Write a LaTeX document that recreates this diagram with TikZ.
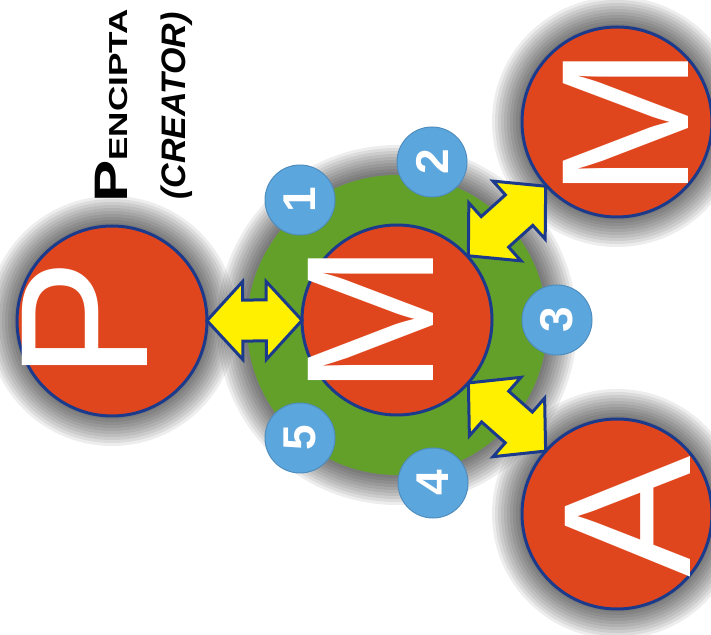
\documentclass[tikz,border=0pt]{standalone}
\usepackage{fontspec}
\setmainfont{Liberation Sans}
\usetikzlibrary{shapes.arrows}
\definecolor{redball}{RGB}{224,70,30}
\definecolor{rimblue}{RGB}{28,58,140}
\definecolor{ringgreen}{RGB}{98,160,42}
\definecolor{arrowyellow}{RGB}{255,240,0}
\definecolor{bubbleblue}{RGB}{92,166,222}

\begin{document}
\begin{tikzpicture}[x=1pt,y=1pt,
    ball/.style={circle,fill=redball,draw=rimblue,line width=3pt,minimum size=190pt,inner sep=0},
    letter/.style={rotate=90,anchor=base,inner sep=0,text=white,font=\fontsize{182}{182}\selectfont},
    bubble/.style={circle,fill=bubbleblue,draw=bubbleblue!85!black,line width=1pt,minimum size=70pt,inner sep=0,text=white,font=\bfseries\fontsize{46}{46}\selectfont,rotate=90},
    fatarrow/.style={double arrow,fill=arrowyellow,draw=rimblue,line width=3pt,inner xsep=0,inner ysep=19pt,double arrow head extend=18.5pt,double arrow tip angle=95,midway,sloped},
    glow/.style={fill=black,fill opacity=0.07}]
        \useasboundingbox (0,0) rectangle (711,634);
        % shadows
        \foreach \cx/\cy/\r in {397/309/150,112/313/95,617/512/95,617/120/95}
            \foreach \k in {1,...,10}
                \fill[glow] (\cx,\cy) circle (\r+3*\k);
        \node[circle,fill=ringgreen,minimum size=300pt,inner sep=0] (ring) at (397,309) {};
        \node[ball] (pc) at (112,313) {};
        \node[ball] (mc) at (397,314) {};
        \node[ball] (mr) at (617,512) {};
        \node[ball] (ac) at (617,120) {};
        \node[letter] (pl) at (147,314) {P};
        \node[letter] (ml) at (433,314) {M};
        \node[letter] (mrl) at (688,511) {M};
        \node[letter] (al) at (690,117) {A};
        % arrows
        \path (pc) -- (mc) node[fatarrow,minimum height=95pt] (a1) {};
        \path (mc) -- (mr) node[fatarrow,minimum height=104pt] (a2) {};
        \path (mc) -- (ac) node[fatarrow,minimum height=103pt] (a3) {};
        \node[bubble] (b1) at (300,434) {1};
        \node[bubble] (b2) at (432,472) {2};
        \node[bubble] (b3) at (557,314) {3};
        \node[bubble] (b4) at (433,151) {4};
        \node[bubble] (b5) at (300,196) {5};
        \node[rotate=90,anchor=base west,inner sep=0,font=\bfseries] (pencipta) at (127,431) {\scalebox{1.35}[1]{\fontsize{47}{47}\selectfont P\fontsize{26}{26}\selectfont ENCIPTA}};
        \node[rotate=90,anchor=base west,inner sep=0,font=\bfseries\itshape\fontsize{34}{34}\selectfont] (creator) at (185,434) {(CREATOR)};
\end{tikzpicture}
\end{document}
